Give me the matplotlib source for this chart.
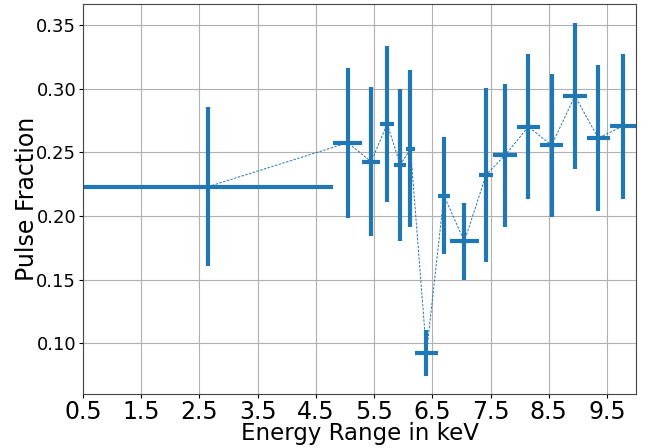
import numpy as np
import matplotlib
matplotlib.use("Agg")
import matplotlib.pyplot as plt

# Energy bins (keV) and pulse fraction per bin
e_lo = [0.5, 4.8, 5.3, 5.6, 5.85, 6.05, 6.2, 6.6, 6.8, 7.3, 7.55, 7.95, 8.35, 8.75, 9.15, 9.55]
e_hi = [4.8, 5.3, 5.6, 5.85, 6.05, 6.2, 6.6, 6.8, 7.3, 7.55, 7.95, 8.35, 8.75, 9.15, 9.55, 10.0]
pf = [0.223, 0.2575, 0.2425, 0.2722, 0.240, 0.2528, 0.0925, 0.216, 0.180, 0.2323,
      0.2477, 0.270, 0.2555, 0.2942, 0.2612, 0.2705]
pf_err = [0.0625, 0.059, 0.0585, 0.061, 0.060, 0.0615, 0.0178, 0.046, 0.030, 0.0685,
          0.0562, 0.0568, 0.0562, 0.0575, 0.057, 0.057]

e_lo = np.array(e_lo)
e_hi = np.array(e_hi)
e_mid = (e_lo + e_hi) / 2
e_err = (e_hi - e_lo) / 2

fig, ax = plt.subplots(figsize=(6.49, 4.48), dpi=100)

ax.errorbar(e_mid, pf, xerr=e_err, yerr=pf_err, fmt="--", color="#1f77b4",
            lw=0.7, elinewidth=3, capsize=0, dashes=(2.5, 1.5))

ax.set_xlim(0.5, 10.0)
ax.set_ylim(0.06, 0.366)
ax.set_xticks(np.arange(0.5, 10.0, 1.0))
ax.set_yticks([0.10, 0.15, 0.20, 0.25, 0.30, 0.35])
ax.tick_params(axis="x", labelsize=17, length=3, pad=1)
ax.tick_params(axis="y", labelsize=13, length=3, pad=2)
ax.set_xlabel("Energy Range in keV", fontsize=16.5, labelpad=-1)
ax.set_ylabel("Pulse Fraction", fontsize=17, labelpad=-2)
ax.grid(True)
for s in ax.spines.values():
    s.set_color("#444444")

fig.subplots_adjust(left=0.128, right=0.98, top=0.99, bottom=0.12)
fig.savefig("out.png", dpi=100)
